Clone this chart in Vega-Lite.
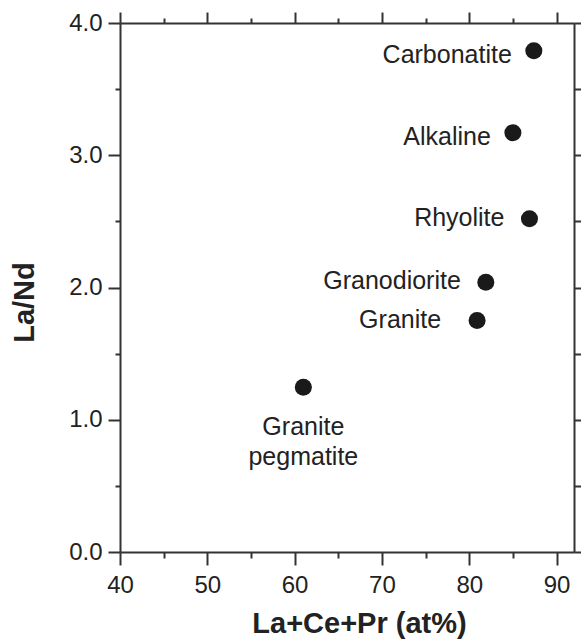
{
  "$schema": "https://vega.github.io/schema/vega-lite/v6.json",
  "width": 454,
  "height": 529,
  "autosize": {"type": "none"},
  "padding": {"left": 120, "top": 23, "right": 7, "bottom": 87},
  "background": "white",
  "config": {
    "view": {"stroke": null},
    "font": "Liberation Sans",
    "axis": {
      "domainColor": "#333333",
      "domainWidth": 2,
      "tickColor": "#333333",
      "tickWidth": 2,
      "labelFont": "Liberation Sans",
      "labelColor": "#222222",
      "labelFontSize": 24,
      "titleFont": "Liberation Sans",
      "titleFontSize": 29,
      "titleFontWeight": "bold",
      "titleColor": "#222222",
      "grid": false
    }
  },
  "data": {
    "values": [
      {"rock": "Carbonatite", "lcp": 87.4, "land": 3.79},
      {"rock": "Alkaline", "lcp": 85.0, "land": 3.17},
      {"rock": "Rhyolite", "lcp": 86.9, "land": 2.52},
      {"rock": "Granodiorite", "lcp": 81.9, "land": 2.04},
      {"rock": "Granite", "lcp": 80.9, "land": 1.75},
      {"rock": "Granite pegmatite", "lcp": 61.0, "land": 1.245}
    ]
  },
  "layer": [
    {
      "mark": {"type": "point", "filled": true, "size": 290, "color": "#1a1a1a", "opacity": 1},
      "encoding": {
        "x": {
          "field": "lcp", "type": "quantitative",
          "scale": {"domain": [40, 92], "nice": false, "zero": false},
          "axis": {
            "orient": "bottom",
            "values": [40, 45, 50, 55, 60, 65, 70, 75, 80, 85, 90],
            "labelExpr": "datum.value % 10 === 0 ? datum.label : ''",
            "tickSize": {"condition": {"test": "datum.value % 10 === 0", "value": 13}, "value": 6},
            "labelPadding": 8,
            "labelFlush": false,
            "labelOverlap": false,
            "title": "La+Ce+Pr (at%)",
            "titleX": 239,
            "titleY": 80,
            "titleAlign": "center",
            "titleBaseline": "alphabetic"
          }
        },
        "y": {
          "field": "land", "type": "quantitative",
          "scale": {"domain": [0, 4], "nice": false, "zero": false},
          "axis": {
            "orient": "left",
            "values": [0, 0.5, 1, 1.5, 2, 2.5, 3, 3.5, 4],
            "format": ".1f",
            "labelExpr": "datum.value % 1 === 0 ? datum.label : ''",
            "tickSize": {"condition": {"test": "datum.value % 1 === 0", "value": 12}, "value": 5},
            "labelPadding": 6,
            "labelFlush": false,
            "labelOverlap": false,
            "title": "La/Nd",
            "titleX": -96,
            "titleY": 279,
            "titleAngle": -90,
            "titleAlign": "center",
            "titleBaseline": "middle"
          }
        }
      }
    },
    {
      "transform": [{"filter": "datum.rock === 'Carbonatite' || datum.rock === 'Alkaline'"}],
      "mark": {"type": "text", "align": "right", "baseline": "alphabetic", "dx": -22, "dy": 12, "fontSize": 25, "font": "Liberation Sans", "color": "#222222"},
      "encoding": {
        "x": {
          "field": "lcp", "type": "quantitative",
          "scale": {"domain": [40, 92], "nice": false, "zero": false},
          "axis": {
            "orient": "top",
            "values": [40, 45, 50, 55, 60, 65, 70, 75, 80, 85, 90],
            "labels": false,
            "title": null,
            "tickSize": {"condition": {"test": "datum.value % 10 === 0", "value": 11}, "value": 5}
          }
        },
        "y": {
          "field": "land", "type": "quantitative",
          "scale": {"domain": [0, 4], "nice": false, "zero": false},
          "axis": {
            "orient": "right",
            "values": [0, 0.5, 1, 1.5, 2, 2.5, 3, 3.5, 4],
            "labels": false,
            "title": null,
            "tickSize": 8
          }
        },
        "text": {"field": "rock"}
      }
    },
    {
      "transform": [{"filter": "datum.rock === 'Rhyolite' || datum.rock === 'Granodiorite'"}],
      "mark": {"type": "text", "align": "right", "baseline": "alphabetic", "dx": -25, "dy": 7, "fontSize": 25, "font": "Liberation Sans", "color": "#222222"},
      "encoding": {
        "x": {"field": "lcp", "type": "quantitative", "axis": null},
        "y": {"field": "land", "type": "quantitative", "axis": null},
        "text": {"field": "rock"}
      }
    },
    {
      "transform": [{"filter": "datum.rock === 'Granite'"}],
      "mark": {"type": "text", "align": "right", "baseline": "alphabetic", "dx": -36, "dy": 7, "fontSize": 25, "font": "Liberation Sans", "color": "#222222"},
      "encoding": {
        "x": {"field": "lcp", "type": "quantitative", "axis": null},
        "y": {"field": "land", "type": "quantitative", "axis": null},
        "text": {"field": "rock"}
      }
    },
    {
      "transform": [{"filter": "datum.rock === 'Granite pegmatite'"}],
      "mark": {"type": "text", "align": "center", "baseline": "alphabetic", "dy": 48, "lineBreak": " ", "lineHeight": 30, "fontSize": 25, "font": "Liberation Sans", "color": "#222222"},
      "encoding": {
        "x": {"field": "lcp", "type": "quantitative", "axis": null},
        "y": {"field": "land", "type": "quantitative", "axis": null},
        "text": {"field": "rock"}
      }
    }
  ],
  "resolve": {"axis": {"x": "independent", "y": "independent"}}
}
